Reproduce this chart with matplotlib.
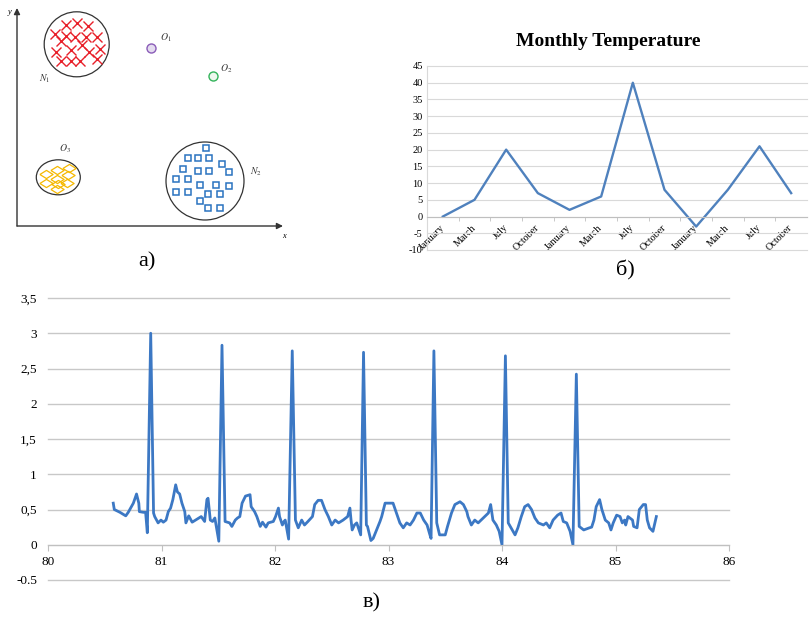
import numpy as np
import matplotlib
matplotlib.use('Agg')
import matplotlib.pyplot as plt
from matplotlib.patches import Circle, Ellipse

plt.rcParams['font.family'] = ['Liberation Serif', 'DejaVu Serif']
plt.rcParams['mathtext.fontset'] = 'stix'
plt.rcParams['axes.unicode_minus'] = False

# ---- panel а: clusters and outliers (panel units, x right / y up)
n1_x = [49, 60.3, 71.3, 38, 48.7, 58.3, 69, 79.7, 44, 64.7, 39, 53.7, 72.3, 83, 44, 54, 63, 80.3]
n1_y = [201, 203.3, 200, 192, 190.3, 189.3, 189.3, 189.3, 185.3, 181, 174.3, 176, 174.3, 177.3,
        165.3, 165.3, 165.3, 166.7]
n2_x = [188.7, 170.7, 180.7, 192.3, 204.7, 166.3, 180.7, 192.3, 211.7, 159.3, 170.7, 183.3, 199,
        211.7, 159.3, 170.7, 191.3, 203, 183.3, 191.3, 203]
n2_y = [78.3, 68.3, 68.3, 68.3, 62, 57, 55, 55, 54, 47, 47, 41, 41, 40, 33.7, 33.7, 31.7, 31.7,
        25, 17.7, 17.7]
o3_x = [28.7, 40.3, 52.3, 39.5, 51.3, 28.5, 41, 49.5, 39.5]
o3_y = [51.7, 55.5, 57.7, 47, 51.3, 42.5, 42, 43, 36.5]
o1_pos = (133.7, 178.3)
o2_pos = (196.3, 150.3)

# ---- panel б: monthly temperature
months = ['January', 'March', 'July', 'October'] * 3
temps = [0, 5, 20, 7, 2, 6, 40, 8, -3, 8, 21, 7]

# ---- panel в: ECG trace
ecg_t = [80.575, 80.584, 80.634, 80.685, 80.707, 80.752, 80.78, 80.80, 80.805, 80.84, 80.86, 80.875, 80.905, 80.93,
         80.94, 80.97, 80.995, 81.016, 81.04, 81.06, 81.08, 81.10, 81.125, 81.14, 81.16, 81.18, 81.205, 81.215,
         81.24, 81.27, 81.30, 81.35, 81.38, 81.40, 81.41, 81.43, 81.45, 81.47, 81.505, 81.533, 81.56,
         81.60, 81.62, 81.65, 81.67, 81.69, 81.71, 81.74, 81.78, 81.79, 81.82, 81.84, 81.87, 81.89, 81.92,
         81.94, 81.985, 82.005, 82.03, 82.04, 82.065, 82.08, 82.09, 82.12, 82.152, 82.18,
         82.205, 82.235, 82.26, 82.29, 82.33, 82.35, 82.38, 82.41, 82.44, 82.47, 82.50, 82.53, 82.56, 82.60,
         82.64, 82.66, 82.67, 82.68, 82.70, 82.72, 82.755, 82.78, 82.805,
         82.815, 82.845, 82.865, 82.895, 82.925, 82.94, 82.97, 83.04, 83.07, 83.10, 83.13, 83.16, 83.19,
         83.22, 83.25, 83.28, 83.31, 83.34, 83.365, 83.375, 83.40, 83.425,
         83.45, 83.50, 83.52, 83.555, 83.585, 83.63, 83.66, 83.69, 83.70, 83.73, 83.76, 83.79, 83.835,
         83.88, 83.90, 83.92, 83.95, 83.975, 84.00, 84.03, 84.055,
         84.08, 84.115, 84.14, 84.17, 84.20, 84.23, 84.26, 84.29, 84.32, 84.365, 84.39, 84.42, 84.45,
         84.49, 84.52, 84.54, 84.57, 84.60, 84.625, 84.655, 84.68,
         84.72, 84.77, 84.79, 84.81, 84.83, 84.86, 84.88, 84.91, 84.94, 84.96, 84.98, 85.01, 85.04,
         85.06, 85.08, 85.09, 85.11, 85.15, 85.16, 85.19, 85.21, 85.245, 85.265, 85.28, 85.30, 85.33, 85.36]
ecg_v = [0.59, 0.50, 0.46, 0.41, 0.46, 0.59, 0.72, 0.59, 0.47, 0.46, 0.46, 0.17, 3.0, 0.45,
         0.40, 0.31, 0.35, 0.32, 0.35, 0.47, 0.52, 0.64, 0.85, 0.75, 0.72, 0.59, 0.47, 0.31,
         0.41, 0.32, 0.35, 0.40, 0.33, 0.64, 0.66, 0.35, 0.33, 0.38, 0.05, 2.83, 0.33,
         0.31, 0.26, 0.35, 0.38, 0.40, 0.59, 0.69, 0.71, 0.54, 0.47, 0.40, 0.26, 0.32, 0.25,
         0.31, 0.33, 0.40, 0.52, 0.40, 0.28, 0.33, 0.35, 0.08, 2.75, 0.35,
         0.24, 0.35, 0.28, 0.33, 0.40, 0.57, 0.63, 0.63, 0.50, 0.40, 0.28, 0.35, 0.31, 0.35,
         0.40, 0.52, 0.35, 0.21, 0.28, 0.31, 0.14, 2.73, 0.28,
         0.26, 0.06, 0.09, 0.21, 0.33, 0.40, 0.59, 0.59, 0.45, 0.31, 0.24, 0.31, 0.28,
         0.35, 0.45, 0.45, 0.35, 0.28, 0.14, 0.09, 2.75, 0.31,
         0.14, 0.14, 0.26, 0.45, 0.57, 0.61, 0.57, 0.47, 0.40, 0.28, 0.35, 0.31, 0.38,
         0.45, 0.57, 0.35, 0.28, 0.19, 0.0, 2.68, 0.31,
         0.24, 0.14, 0.24, 0.40, 0.54, 0.57, 0.50, 0.38, 0.31, 0.28, 0.31, 0.24, 0.35,
         0.42, 0.45, 0.33, 0.31, 0.19, 0.0, 2.42, 0.26,
         0.21, 0.24, 0.25, 0.35, 0.54, 0.64, 0.50, 0.35, 0.31, 0.21, 0.31, 0.42, 0.40,
         0.31, 0.35, 0.28, 0.40, 0.35, 0.26, 0.24, 0.50, 0.57, 0.57, 0.35, 0.24, 0.19, 0.40]
ecg_yticks = [-0.5, 0, 0.5, 1, 1.5, 2, 2.5, 3, 3.5]
ecg_ylabels = ['-0.5', '0', '0,5', '1', '1,5', '2', '2,5', '3', '3,5']

W, H = 810, 617


def box(l, t, r, b):
    return [l / W, 1 - b / H, (r - l) / W, (b - t) / H]


fig = plt.figure(figsize=(W / 100, H / 100), dpi=100)

# ---------------- а)
ax1 = fig.add_axes(box(17, 8, 283, 226))
ax1.set_xlim(0, 266)
ax1.set_ylim(0, 218)
ax1.axis('off')
arr = dict(arrowstyle='-|>', color='#333333', lw=1, mutation_scale=9, shrinkA=0, shrinkB=0)
ax1.annotate('', xy=(266, 0), xytext=(0, 0), arrowprops=arr, annotation_clip=False)
ax1.annotate('', xy=(0, 218), xytext=(0, 0), arrowprops=arr, annotation_clip=False)
ax1.text(-7.7, 213.7, 'y', fontsize=6, style='italic', ha='center', va='center')
ax1.text(267, -10, 'x', fontsize=6, style='italic', ha='center', va='center')

ax1.add_patch(Circle((59.7, 181.7), 32.5, fill=False, ec='#333333', lw=0.9))
ax1.add_patch(Circle((188, 45), 39, fill=False, ec='#333333', lw=0.9))
ax1.add_patch(Ellipse((41.3, 48.7), 44, 35, fill=False, ec='#333333', lw=0.9))
ax1.plot(n1_x, n1_y, 'x', color='#e8202a', ms=6.5, mew=1)
ax1.plot(n2_x, n2_y, 's', mfc='none', mec='#2a73c0', ms=4.8, mew=1.1, ls='none')
diamond = [(-1, 0), (0, 0.62), (1, 0), (0, -0.62), (-1, 0)]
ax1.plot(o3_x, o3_y, marker=diamond, mfc='none', mec='#f5b800', ms=9.5, mew=0.9, ls='none')
ax1.plot(*o1_pos, 'o', mfc='#e4dcef', mec='#8a5cb8', ms=6.5, mew=1)
ax1.plot(*o2_pos, 'o', mfc='#eef8ee', mec='#33b35a', ms=6.5, mew=1)
for (lx, ly, s) in [(148.7, 188.7, '$O_1$'), (208.7, 157.7, '$O_2$'), (28, 147.7, '$N_1$'),
                    (48, 77.7, '$O_3$'), (238.7, 54.3, '$N_2$')]:
    ax1.text(lx, ly, s, fontsize=7, ha='center', va='center', color='#333333')

# ---------------- б)
ax2 = fig.add_axes(box(427, 66, 807, 250))
ax2.plot(range(len(temps)), temps, color='#4f81bd', lw=1.7)
ax2.set_xlim(-0.5, 11.5)
ax2.set_ylim(-10, 45)
ax2.set_yticks(range(-10, 46, 5))
ax2.grid(axis='y', color='#d9d9d9', lw=0.8)
for gl in ax2.get_ygridlines():
    gl.set_clip_on(False)
ax2.set_axisbelow(True)
ax2.spines['bottom'].set_position(('data', 0))
ax2.spines['bottom'].set_color('#bfbfbf')
ax2.spines[['top', 'right']].set_visible(False)
ax2.spines['left'].set_color('#d9d9d9')
ax2.set_xticks(range(len(months)))
ax2.set_xticklabels(months, rotation=45, ha='right', va='center', rotation_mode='anchor', fontsize=7.3)
ax2.set_xticks(np.arange(0.5, 11, 1), minor=True)
ax2.tick_params(axis='x', which='major', length=0, pad=7)
ax2.tick_params(axis='x', which='minor', length=3, color='#bfbfbf')
ax2.tick_params(axis='y', length=0, labelsize=7.5, pad=3)
fig.text(608 / W, 1 - 42 / H, 'Monthly Temperature', fontsize=14, fontweight='bold',
         ha='center', va='center')

# ---------------- в)
ax3 = fig.add_axes(box(48, 298, 729, 580))
ax3.plot(ecg_t, ecg_v, color='#3c78c4', lw=2)
ax3.set_xlim(80, 86)
ax3.set_ylim(-0.5, 3.5)
ax3.set_yticks(ecg_yticks)
ax3.set_yticklabels(ecg_ylabels)
ax3.grid(axis='y', color='#c8c8c8', lw=1)
for gl in ax3.get_ygridlines():
    gl.set_clip_on(False)
ax3.set_axisbelow(True)
ax3.spines['bottom'].set_position(('data', 0))
ax3.spines['bottom'].set_color('#c0c0c0')
ax3.spines[['top', 'right', 'left']].set_visible(False)
ax3.set_xticks(range(80, 87))
ax3.tick_params(axis='x', length=4, color='#c0c0c0', labelsize=9.5, pad=4)
ax3.tick_params(axis='y', length=0, labelsize=9.5, pad=8)

# panel letters
fig.text(147 / W, 1 - 262 / H, 'а)', fontsize=16, ha='center', va='center')
fig.text(625 / W, 1 - 270 / H, 'б)', fontsize=16, ha='center', va='center')
fig.text(372 / W, 1 - 603 / H, 'в)', fontsize=16, ha='center', va='center')

fig.savefig('out.png', dpi=100)
